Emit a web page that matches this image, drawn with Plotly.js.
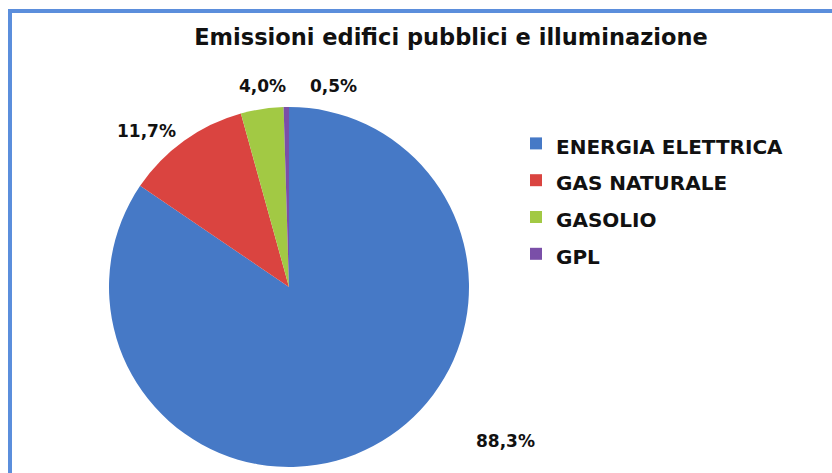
<!DOCTYPE html>
<html>
<head>
<meta charset="utf-8">
<script src="https://cdn.plot.ly/plotly-3.0.1.min.js"></script>
<style>html,body{margin:0;padding:0;background:#fff;}#chart{width:832px;height:473px;}</style>
</head>
<body>
<div id="chart"></div>
<script>
// ---- data ----
var categories = ["ENERGIA ELETTRICA", "GAS NATURALE", "GASOLIO", "GPL"];
var values = [88.3, 11.7, 4.0, 0.5];
var colors = ["#4679C6", "#DA4440", "#A2C944", "#7A4FA8"];
var chartTitle = "Emissioni edifici pubblici e illuminazione";

// label positions (pixels in the 832x473 figure)
var labelPx = [[505, 441], [146, 131], [262, 86], [333, 86]];

var W = 832, H = 473;
function px(x) { return x / W; }
function py(y) { return 1 - y / H; }

function fmt(v) { return v.toFixed(1).replace('.', ',') + '%'; }

var trace = {
  type: 'pie',
  labels: categories.map(function (c) { return '<span style="font-size:20px">' + c + '</span>'; }),
  values: values,
  marker: { colors: colors, line: { width: 0 } },
  sort: false,
  direction: 'clockwise',
  rotation: 0,
  textinfo: 'none',
  hoverinfo: 'label+value',
  domain: { x: [px(109), px(469)], y: [py(467), py(107)] }
};

var annotations = values.map(function (v, i) {
  return {
    text: fmt(v),
    x: px(labelPx[i][0]), y: py(labelPx[i][1]),
    xref: 'paper', yref: 'paper',
    xanchor: 'center', yanchor: 'middle',
    showarrow: false,
    font: { family: 'DejaVu Sans', size: 17, color: '#111', weight: 'bold' }
  };
});

var layout = {
  width: W, height: H,
  margin: { l: 0, r: 0, t: 0, b: 0 },
  paper_bgcolor: '#fff',
  title: {
    text: chartTitle,
    x: px(451), y: py(37), xanchor: 'center', yanchor: 'middle',
    font: { family: 'DejaVu Sans', size: 22.5, color: '#111', weight: 'bold' }
  },
  showlegend: true,
  legend: {
    x: px(516), y: py(120), xanchor: 'left', yanchor: 'top',
    font: { family: 'DejaVu Sans', size: 26, color: '#111', weight: 'bold' },
    bgcolor: 'rgba(0,0,0,0)'
  },
  annotations: annotations,
  shapes: [{
    type: 'rect', xref: 'paper', yref: 'paper',
    x0: px(10), x1: 1.1, y0: -0.1, y1: py(11),
    line: { color: '#5B8EDC', width: 4 },
    fillcolor: 'rgba(0,0,0,0)'
  }]
};

Plotly.newPlot('chart', [trace], layout, { displayModeBar: false, staticPlot: true });
</script>
</body>
</html>
